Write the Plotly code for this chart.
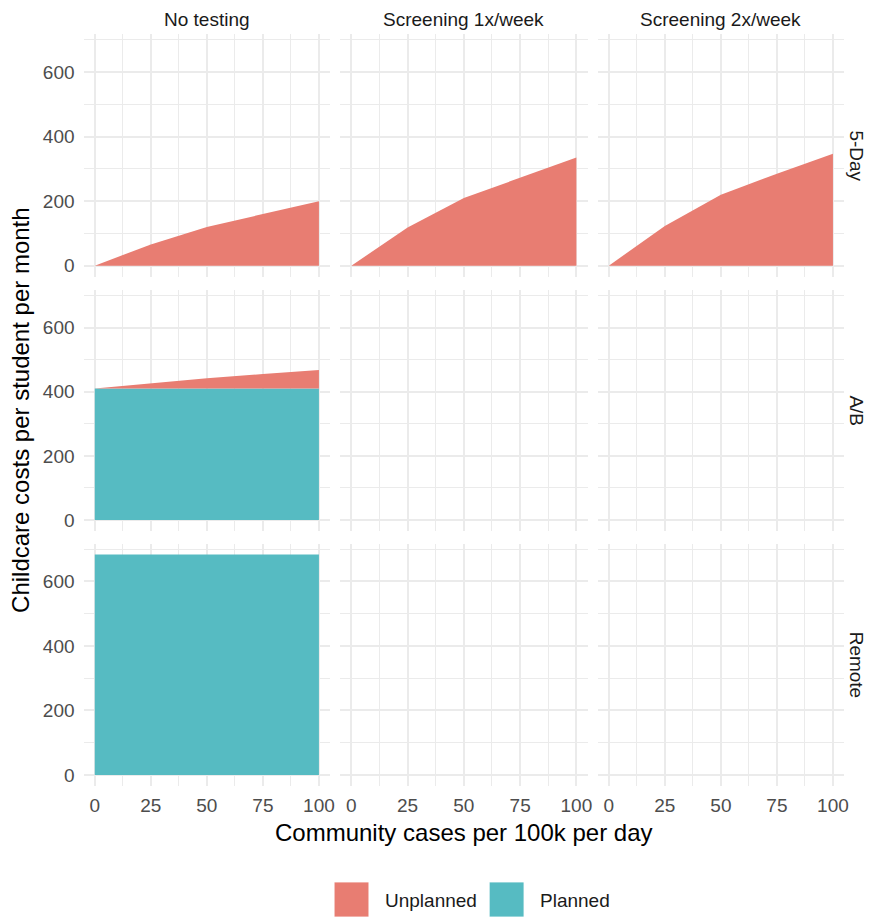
import plotly.graph_objects as go

# ---------------- data ----------------
cases = [0, 25, 50, 75, 100]

col_labels = ["No testing", "Screening 1x/week", "Screening 2x/week"]
row_labels = ["5-Day", "A/B", "Remote"]

unplanned_5day_none = [0, 66, 120, 160, 200]
unplanned_5day_1x = [0, 118, 210, 273, 335]
unplanned_5day_2x = [0, 123, 220, 285, 347]
planned_5day = [0, 0, 0, 0, 0]

unplanned_ab_none = [0, 17, 32, 45, 58]
planned_ab_none = [410, 410, 410, 410, 410]

unplanned_remote_none = [0, 0, 0, 0, 0]
planned_remote_none = [683, 683, 683, 683, 683]

panels = {
    (0, 0): (planned_5day, unplanned_5day_none),
    (0, 1): (planned_5day, unplanned_5day_1x),
    (0, 2): (planned_5day, unplanned_5day_2x),
    (1, 0): (planned_ab_none, unplanned_ab_none),
    (2, 0): (planned_remote_none, unplanned_remote_none),
}

colors = {"Unplanned": "#E87D72", "Planned": "#56BBC2"}

x_ticks = [0, 25, 50, 75, 100]
y_ticks = [0, 200, 400, 600]

# ---------------- layout geometry ----------------
OFF = 8  # page body margin
W, H = 877 - OFF, 920 - OFF


def px(v):
    return (v - OFF) / W


def py(v):
    return 1 - (v - OFF) / H


col_px = [(84, 332), (342, 591), (601, 849)]
row_px = [(34.3, 276.7), (290, 531), (543.5, 786)]
ymax = 683
y_range = [-0.05 * ymax, 1.05 * ymax]
x_range = [-5, 105]

FONT = "Liberation Sans, Arial, Helvetica, sans-serif"
GRID = "#EBEBEB"

fig = go.Figure()
layout = {}

for r in range(3):
    for c in range(3):
        idx = r * 3 + c + 1
        xa = "xaxis" if idx == 1 else f"xaxis{idx}"
        ya = "yaxis" if idx == 1 else f"yaxis{idx}"
        xref = "x" if idx == 1 else f"x{idx}"
        yref = "y" if idx == 1 else f"y{idx}"
        x0, x1 = col_px[c]
        y0, y1 = row_px[r]
        layout[xa] = dict(
            domain=[px(x0), px(x1)], anchor=yref, range=x_range,
            tickvals=x_ticks, showticklabels=(r == 2),
            showgrid=True, gridcolor=GRID, gridwidth=1.8, zeroline=False,
            showline=False, ticks="", ticklabelstandoff=6,
            tickfont=dict(family=FONT, size=19, color="#4D4D4D"),
            minor=dict(dtick=12.5, tick0=0, showgrid=True, gridcolor=GRID, gridwidth=0.9),
            fixedrange=True,
        )
        layout[ya] = dict(
            domain=[py(y1), py(y0)], anchor=xref, range=y_range,
            tickvals=y_ticks, showticklabels=(c == 0),
            showgrid=True, gridcolor=GRID, gridwidth=1.8, zeroline=False,
            showline=False, ticks="", ticklabelstandoff=8,
            tickfont=dict(family=FONT, size=19, color="#4D4D4D"),
            minor=dict(dtick=100, tick0=0, showgrid=True, gridcolor=GRID, gridwidth=0.9),
            fixedrange=True,
        )
        if (r, c) in panels:
            planned, unplanned = panels[(r, c)]
            grp = f"g{idx}"
            fig.add_trace(go.Scatter(
                x=cases, y=planned, xaxis=xref, yaxis=yref, stackgroup=grp,
                name="Planned", mode="lines", line=dict(width=0, color=colors["Planned"]),
                fillcolor=colors["Planned"], showlegend=False, hoverinfo="x+y+name",
            ))
            fig.add_trace(go.Scatter(
                x=cases, y=unplanned, xaxis=xref, yaxis=yref, stackgroup=grp,
                name="Unplanned", mode="lines", line=dict(width=0, color=colors["Unplanned"]),
                fillcolor=colors["Unplanned"], showlegend=False, hoverinfo="x+y+name",
            ))
        else:
            # empty facet: still draw its panel (grid + axes)
            fig.add_trace(go.Scatter(
                x=[None], y=[None], xaxis=xref, yaxis=yref, mode="lines",
                showlegend=False, hoverinfo="skip",
            ))

annotations = []
for c, lab in enumerate(col_labels):
    x0, x1 = col_px[c]
    annotations.append(dict(
        text=lab, x=px((x0 + x1) / 2), y=py(19.5), xref="paper", yref="paper",
        showarrow=False, xanchor="center", yanchor="middle",
        font=dict(family=FONT, size=19, color="#1A1A1A"),
    ))
for r, lab in enumerate(row_labels):
    y0, y1 = row_px[r]
    annotations.append(dict(
        text=lab, x=px(861), y=py((y0 + y1) / 2), xref="paper", yref="paper",
        showarrow=False, xanchor="center", yanchor="middle", textangle=90,
        font=dict(family=FONT, size=19, color="#1A1A1A"),
    ))
annotations.append(dict(
    text="Community cases per 100k per day", x=px((84 + 849) / 2), y=py(832),
    xref="paper", yref="paper", showarrow=False, xanchor="center", yanchor="middle",
    font=dict(family=FONT, size=24, color="#000000"),
))
annotations.append(dict(
    text="Childcare costs per student per month", x=px(20), y=py(410),
    xref="paper", yref="paper", showarrow=False, xanchor="center", yanchor="middle",
    textangle=-90, font=dict(family=FONT, size=24, color="#000000"),
))

shapes = []
legend_items = [("Unplanned", 336, 385), ("Planned", 492, 541)]
for name, kx, tx in legend_items:
    shapes.append(dict(
        type="rect", xref="paper", yref="paper",
        x0=px(kx), x1=px(kx + 35), y0=py(917), y1=py(882),
        fillcolor=colors[name], line=dict(width=0.8, color="#FFFFFF"), layer="above",
    ))
    annotations.append(dict(
        text=name, x=px(tx), y=py(900), xref="paper", yref="paper",
        showarrow=False, xanchor="left", yanchor="middle",
        font=dict(family=FONT, size=19, color="#1A1A1A"),
    ))

fig.update_layout(
    width=W, height=H,
    margin=dict(l=0, r=0, t=0, b=0),
    paper_bgcolor="white", plot_bgcolor="white",
    showlegend=False,
    annotations=annotations, shapes=shapes,
    **layout,
)

fig.write_html("out.html")
